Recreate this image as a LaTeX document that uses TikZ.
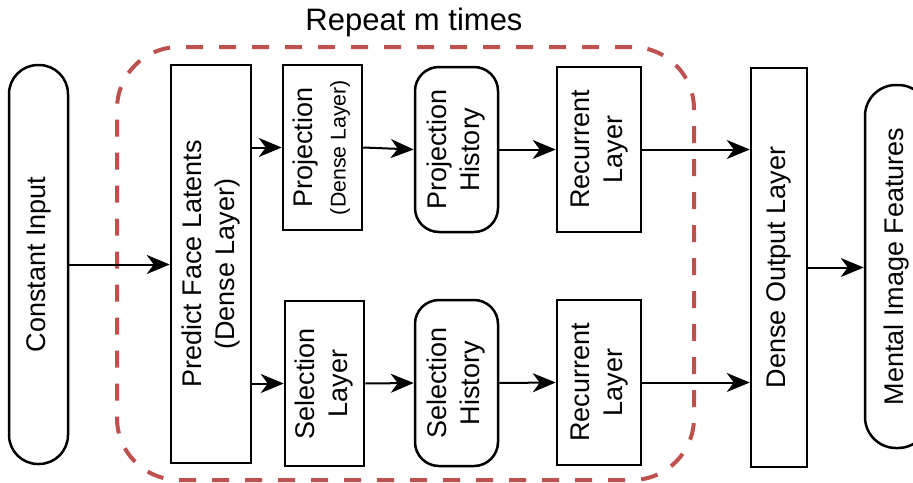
\documentclass[tikz,border=0pt]{standalone}
\usepackage{fontspec}
\setmainfont{Liberation Sans}
\usetikzlibrary{arrows.meta}
\definecolor{repred}{RGB}{190,80,77}
\newcommand{\vlab}[1]{\rotatebox{90}{\begin{tabular}{@{}c@{}}#1\end{tabular}}}
\tikzset{
  box/.style={draw=black, line width=2.5pt, inner sep=0pt, fill=white,
    font=\fontsize{27}{33}\selectfont},
  stadium/.style={box, rounded corners=29pt},
  rbox/.style={box, rounded corners=24pt},
  arr/.style={draw=black, line width=2pt, -{Stealth[length=23pt,width=19pt,inset=7pt]}},
  repbox/.style={draw=repred, line width=4pt, dash pattern=on 17pt off 16pt,
    rounded corners=62pt, inner sep=0pt}
}
\begin{document}
\begin{tikzpicture}[x=1pt,y=-1pt]
\clip (0,0) rectangle (913,482);
\fill[white] (0,0) rectangle (913,482);

\node[repbox, minimum width=577pt, minimum height=433pt] (rep) at (405.5,263.5) {};
\node[anchor=base, inner sep=0pt, font=\fontsize{31}{36}\selectfont] (reptitle) at (414,30) {Repeat m times};

\node[stadium, minimum width=59pt, minimum height=399pt] (const) at (38.5,264.5) {\vlab{Constant Input}};
\node[box, minimum width=80pt, minimum height=398pt] (predict) at (211,264) {\vlab{Predict Face Latents\\(Dense Layer)}};
\node[box, minimum width=79pt, minimum height=165pt] (proj) at (322.5,147.5) {\vlab{Projection\\\scalebox{0.79}{(Dense Layer)}}};
\node[rbox, minimum width=83pt, minimum height=165pt] (projhist) at (456.5,149.5) {\vlab{Projection\\History}};
\node[box, minimum width=84pt, minimum height=165pt] (rec1) at (599,149.5) {\vlab{Recurrent\\Layer}};
\node[box, minimum width=79pt, minimum height=165pt] (sel) at (324.5,383.5) {\vlab{Selection\\Layer}};
\node[rbox, minimum width=83pt, minimum height=166pt] (selhist) at (456.5,383) {\vlab{Selection\\History}};
\node[box, minimum width=84pt, minimum height=165pt] (rec2) at (599,382.5) {\vlab{Recurrent\\Layer}};
\node[box, minimum width=56pt, minimum height=399pt] (dense) at (779,267.5) {\vlab{Dense Output Layer}};
\node[stadium, rounded corners=31pt, minimum width=64pt, minimum height=363pt] (mental) at (897,266.5) {\vlab{Mental Image Features}};

\draw[arr] (const.east) -- (const.east -| predict.west);
\draw[arr] (proj.west -| predict.east) -- (proj.west);
\draw[arr] (proj.east) -- (projhist.west);
\draw[arr] (projhist.east) -- (rec1.west);
\draw[arr] (rec1.east) -- (rec1.east -| dense.west);
\draw[arr] (sel.west -| predict.east) -- (sel.west);
\draw[arr] (sel.east) -- (selhist.west);
\draw[arr] (selhist.east) -- (rec2.west);
\draw[arr] (rec2.east) -- (rec2.east -| dense.west);
\draw[arr] (dense.east) -- (dense.east -| mental.west);
\end{tikzpicture}
\end{document}
